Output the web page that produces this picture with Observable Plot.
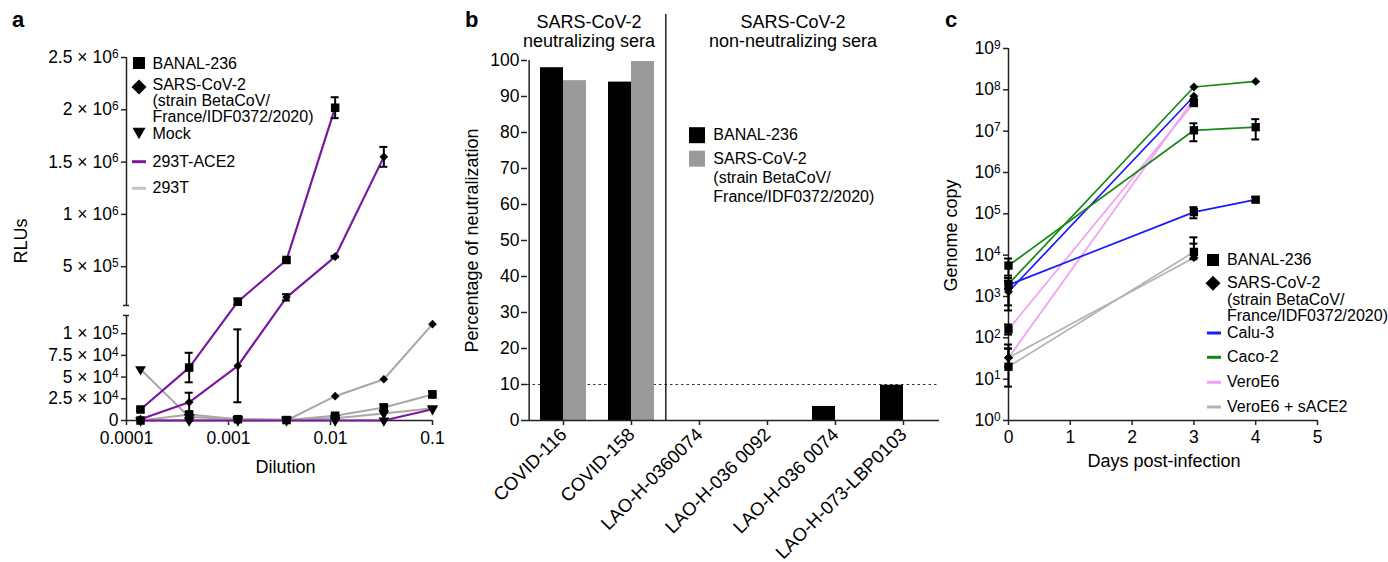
<!DOCTYPE html>
<html>
<head>
<meta charset="utf-8">
<script src="https://cdn.jsdelivr.net/npm/d3@7"></script>
<script src="https://cdn.jsdelivr.net/npm/@observablehq/plot@0.6"></script>
<style>
  body { margin: 0; background: #fff; }
  #root { position: relative; width: 1388px; height: 562px; overflow: hidden; background: #fff; }
  #root svg { position: absolute; top: 0; }
</style>
</head>
<body>
<div id="root"></div>
<script>
// ---------------- Panel a data ----------------
const dilutions = [1/7290, 1/2430, 1/810, 1/270, 1/90, 1/30, 1/10];
const banalACE2    = [12700, 61000, 165000, 564000, 2020000, null, null];
const banalACE2Err = [1500, 17000, 30000, 10000, 100000, null, null];
const sarsACE2     = [1500, 21000, 63000, 207000, 596000, 1550000, null];
const sarsACE2Err  = [0, 11000, 42000, 30000, 8000, 95000, null];
const mockACE2     = [0, 0, 0, 0, 0, 0, 13000];
const banal293T    = [0, 7000, 1500, 500, 5500, 15000, 30000];
const banal293TErr = [0, 0, 0, 0, 2500, 3500, 3500];
const sars293T     = [0, 0, 0, 0, 28000, 47500, 111000];
const mock293T     = [59000, 4000, 1500, 1000, 2500, 8000, 14000];
const rluTicks = [0, 25000, 50000, 75000, 100000, 500000, 1000000, 1500000, 2000000, 2500000];
const rluTickLabels = ["0", "2.5 × 10^4", "5 × 10^4", "7.5 × 10^4", "1 × 10^5", "5 × 10^5", "1 × 10^6", "1.5 × 10^6", "2 × 10^6", "2.5 × 10^6"];
const dilutionTicks = [0.0001, 0.001, 0.01, 0.1];
const dilutionTickLabels = ["0.0001", "0.001", "0.01", "0.1"];
const cellsA = ["293T-ACE2", "293T"];
const virusNames = ["BANAL-236", "SARS-CoV-2", "Mock"];

// ---------------- Panel b data ----------------
const sera = ["COVID-116", "COVID-158", "LAO-H-0360074", "LAO-H-036 0092", "LAO-H-036 0074", "LAO-H-073-LBP0103"];
const neutBANAL = [98, 94, 0, 0, 3.9, 9.8];
const neutSARS  = [94.4, 99.7, 0, 0, 0, 0];
const neutThreshold = 10;
const pctTicks = [0, 10, 20, 30, 40, 50, 60, 70, 80, 90, 100];

// ---------------- Panel c data ----------------
const days = [0, 3, 4];
const caluBANAL = [1900, 110000, 220000];       const caluBANALLo = [610, 78000, 195000];     const caluBANALHi = [2800, 145000, 255000];
const caluSARS  = [1300, 70000000, null];       const caluSARSLo  = [460, null, null];        const caluSARSHi  = [2400, null, null];
const cacoBANAL = [5600, 10500000, 12500000];   const cacoBANALLo = [3200, 5700000, 6300000]; const cacoBANALHi = [8300, 15500000, 19500000];
const cacoSARS  = [2000, 117000000, 160000000]; const cacoSARSLo  = [1500, null, null];       const cacoSARSHi  = [2400, null, null];
const veroBANAL = [160, 48000000, null];        const veroBANALLo = [120, 42000000, null];    const veroBANALHi = [210, 55000000, null];
const veroSARS  = [33, 60000000, null];         const veroSARSLo  = [null, null, null];       const veroSARSHi  = [69, null, null];
const sace2BANAL = [20, 12000, null];           const sace2BANALLo = [6.6, 8000, null];       const sace2BANALHi = [55, 27000, null];
const sace2SARS  = [33, 8700, null];            const sace2SARSLo  = [20, null, null];        const sace2SARSHi  = [55, 19000, null];
const cellsC = ["Calu-3", "Caco-2", "VeroE6", "VeroE6 + sACE2"];
const cellColorsC = ["#1a1aff", "#148a14", "#f29ef2", "#b3b3b3"];
const genomeTicks = [1, 10, 100, 1e3, 1e4, 1e5, 1e6, 1e7, 1e8, 1e9];
const genomeTickLabels = ["10^0", "10^1", "10^2", "10^3", "10^4", "10^5", "10^6", "10^7", "10^8", "10^9"];
const dayTicks = [0, 1, 2, 3, 4, 5];

// ---------------- helpers ----------------
const FONT = "'Liberation Sans', Arial, Helvetica, sans-serif";
const AX = "#222";
const root = document.getElementById("root");

function supify(svg) {
  d3.select(svg).selectAll("text").each(function () {
    const t = this.textContent;
    if (this.childElementCount === 0 && t.includes("^")) {
      const [base, exp] = t.split("^");
      this.textContent = base;
      d3.select(this).append("tspan").attr("dy", "-0.45em").attr("font-size", "0.68em").text(exp);
    }
  });
}
function mount(svg, left) {
  supify(svg);
  svg.style.left = left + "px";
  svg.style.background = "transparent";
  svg.style.maxWidth = "none";
  root.appendChild(svg);
}

// ---------------- Panel a: broken linear axis ----------------
const BREAK_LO = 121000, BREAK_HI = 129000, GAP = 11500, RATIO = 8.3;
function brk(v) {
  if (v <= BREAK_LO) return v;
  if (v >= BREAK_HI) return BREAK_LO + GAP + (v - BREAK_HI) / RATIO;
  return BREAK_LO + (v - BREAK_LO) / (BREAK_HI - BREAK_LO) * GAP;
}
const seriesA = [
  {virus: "BANAL-236", cell: "293T", values: banal293T, err: banal293TErr},
  {virus: "SARS-CoV-2", cell: "293T", values: sars293T, err: null},
  {virus: "Mock", cell: "293T", values: mock293T, err: null},
  {virus: "BANAL-236", cell: "293T-ACE2", values: banalACE2, err: banalACE2Err},
  {virus: "SARS-CoV-2", cell: "293T-ACE2", values: sarsACE2, err: sarsACE2Err},
  {virus: "Mock", cell: "293T-ACE2", values: mockACE2, err: null}
];
const rowsA = seriesA.flatMap(s => dilutions.map((dil, i) => ({
  key: s.virus + "|" + s.cell, virus: s.virus, cell: s.cell, dil,
  v: s.values[i], e: s.err ? s.err[i] : null
}))).filter(d => d.v != null);
const errA = rowsA.filter(d => d.e);
const labelA = new Map(rluTicks.map((t, i) => [brk(t), rluTickLabels[i]]));
const labelX = new Map(dilutionTicks.map((t, i) => [t, dilutionTickLabels[i]]));
const yTopA = brk(rluTicks[rluTicks.length - 1]);
const x0A = dilutionTicks[0];

const plotA = Plot.plot({
  width: 450, height: 490,
  marginLeft: 126, marginRight: 18, marginTop: 57, marginBottom: 70,
  style: {fontFamily: FONT, fontSize: "17.5px", color: "#000", overflow: "visible"},
  x: {type: "log", domain: [dilutionTicks[0], dilutionTicks[dilutionTicks.length - 1]]},
  y: {domain: [0, yTopA]},
  color: {domain: cellsA, range: ["#7a189f", "#a8a8a8"]},
  marks: [
    Plot.ruleX([x0A], {y1: 0, y2: brk(BREAK_LO), stroke: AX, strokeWidth: 1.5}),
    Plot.ruleX([x0A], {y1: brk(BREAK_HI), y2: yTopA, stroke: AX, strokeWidth: 1.5}),
    Plot.ruleY([brk(BREAK_LO), brk(BREAK_HI)], {x1: x0A, x2: x0A, insetLeft: -3, insetRight: -3, stroke: AX, strokeWidth: 1.5}),
    Plot.ruleY([0], {stroke: AX, strokeWidth: 1.5}),
    Plot.axisY({ticks: rluTicks.map(brk), tickFormat: d => labelA.get(d), label: null, tickSize: 5, tickPadding: 3, stroke: AX, strokeWidth: 1.5}),
    Plot.axisX({ticks: dilutionTicks, tickFormat: d => labelX.get(d), label: null, tickSize: 5, tickPadding: 6, stroke: AX, strokeWidth: 1.5}),
    Plot.line(rowsA.filter(d => d.cell === "293T"), {x: "dil", y: d => brk(d.v), z: "key", stroke: "cell", strokeWidth: 2}),
    Plot.line(rowsA.filter(d => d.cell === "293T-ACE2"), {x: "dil", y: d => brk(d.v), z: "key", stroke: "cell", strokeWidth: 2.2}),
    Plot.ruleX(errA, {x: "dil", y1: d => brk(d.v - d.e), y2: d => brk(d.v + d.e), stroke: "#000", strokeWidth: 2}),
    Plot.ruleY(errA, {x1: "dil", x2: "dil", y: d => brk(d.v - d.e), insetLeft: -4, insetRight: -4, stroke: "#000", strokeWidth: 2}),
    Plot.ruleY(errA, {x1: "dil", x2: "dil", y: d => brk(d.v + d.e), insetLeft: -4, insetRight: -4, stroke: "#000", strokeWidth: 2}),
    Plot.dot(rowsA.filter(d => d.virus === "Mock"), {x: "dil", y: d => brk(d.v), symbol: "triangle", rotate: 180, r: 4, fill: "#000"}),
    Plot.dot(rowsA.filter(d => d.virus === "BANAL-236"), {x: "dil", y: d => brk(d.v), symbol: "square", r: 4.8, fill: "#000"}),
    Plot.dot(rowsA.filter(d => d.virus === "SARS-CoV-2"), {x: "dil", y: d => brk(d.v), symbol: "diamond2", r: 3.9, fill: "#000"}),
    Plot.text(["RLUs"], {frameAnchor: "left", rotate: -90, dx: -105, dy: 2, textAnchor: "middle", lineAnchor: "middle", fontSize: 18}),
    Plot.text(["Dilution"], {frameAnchor: "bottom", dx: 6, dy: 47, textAnchor: "middle", lineAnchor: "middle", fontSize: 18})
  ]
});
mount(plotA, 0);

// ---------------- Panel b ----------------
const WB = 505, mLB = 87, mRB = 6, piB = 0.33, poB = 0.165;
const stepB = (WB - mLB - mRB) / (sera.length - piB + 2 * poB);
const bwB = stepB * (1 - piB);
const rowsB = sera.map((s, i) => ({serum: s, banal: neutBANAL[i], sars: neutSARS[i]}));
const plotB = Plot.plot({
  width: WB, height: 562,
  marginLeft: mLB, marginRight: mRB, marginTop: 60, marginBottom: 142,
  style: {fontFamily: FONT, fontSize: "17.5px", color: "#000", overflow: "visible"},
  x: {type: "band", domain: sera, paddingInner: piB, paddingOuter: poB},
  y: {domain: [0, 100]},
  marks: [
    Plot.ruleY([neutThreshold], {stroke: "#333", strokeDasharray: "2.5,3", strokeWidth: 1.2}),
    Plot.barY(rowsB, {x: "serum", y: "banal", fill: "#000", insetRight: bwB / 2}),
    Plot.barY(rowsB, {x: "serum", y: "sars", fill: "#9a9a9a", insetLeft: bwB / 2}),
    Plot.ruleX([sera[1]], {dx: stepB / 2, insetTop: -46, stroke: "#000", strokeWidth: 1.3}),
    Plot.ruleX([sera[0]], {dx: -stepB / 2, stroke: AX, strokeWidth: 1.5}),
    Plot.ruleY([0], {stroke: AX, strokeWidth: 1.5}),
    Plot.axisY({ticks: pctTicks, label: null, tickSize: 6, tickPadding: 2, stroke: AX, strokeWidth: 1.5}),
    Plot.axisX({tickRotate: -45, label: null, tickSize: 5, tickPadding: 6, fontSize: 18.5, stroke: AX, strokeWidth: 1.5}),
    Plot.text(["Percentage of neutralization"], {frameAnchor: "left", rotate: -90, dx: -55, textAnchor: "middle", lineAnchor: "middle", fontSize: 18})
  ]
});
mount(plotB, 440);

// ---------------- Panel c ----------------
const seriesC = [
  {cell: "VeroE6 + sACE2", virus: "BANAL-236", v: sace2BANAL, lo: sace2BANALLo, hi: sace2BANALHi},
  {cell: "VeroE6 + sACE2", virus: "SARS-CoV-2", v: sace2SARS, lo: sace2SARSLo, hi: sace2SARSHi},
  {cell: "VeroE6", virus: "BANAL-236", v: veroBANAL, lo: veroBANALLo, hi: veroBANALHi},
  {cell: "VeroE6", virus: "SARS-CoV-2", v: veroSARS, lo: veroSARSLo, hi: veroSARSHi},
  {cell: "Calu-3", virus: "BANAL-236", v: caluBANAL, lo: caluBANALLo, hi: caluBANALHi},
  {cell: "Calu-3", virus: "SARS-CoV-2", v: caluSARS, lo: caluSARSLo, hi: caluSARSHi},
  {cell: "Caco-2", virus: "BANAL-236", v: cacoBANAL, lo: cacoBANALLo, hi: cacoBANALHi},
  {cell: "Caco-2", virus: "SARS-CoV-2", v: cacoSARS, lo: cacoSARSLo, hi: cacoSARSHi}
];
const rowsC = seriesC.flatMap(s => days.map((day, i) => ({
  key: s.cell + "|" + s.virus, cell: s.cell, virus: s.virus, day,
  v: s.v[i], lo: s.lo[i] ?? s.v[i], hi: s.hi[i] ?? s.v[i]
}))).filter(d => d.v != null);
const errC = rowsC.filter(d => d.lo !== d.v || d.hi !== d.v);
const labelC = new Map(genomeTicks.map((t, i) => [t, genomeTickLabels[i]]));
const plotC = Plot.plot({
  width: 448, height: 562,
  marginLeft: 68, marginRight: 71, marginTop: 48, marginBottom: 142,
  style: {fontFamily: FONT, fontSize: "17.5px", color: "#000", overflow: "visible"},
  x: {domain: [dayTicks[0], dayTicks[dayTicks.length - 1]]},
  y: {type: "log", domain: [genomeTicks[0], genomeTicks[genomeTicks.length - 1]]},
  color: {domain: cellsC, range: cellColorsC},
  marks: [
    Plot.ruleX([dayTicks[0]], {stroke: AX, strokeWidth: 1.5}),
    Plot.ruleY([genomeTicks[0]], {stroke: AX, strokeWidth: 1.5}),
    Plot.axisY({ticks: genomeTicks, tickFormat: d => labelC.get(d), label: null, tickSize: 5, tickPadding: 3, stroke: AX, strokeWidth: 1.5}),
    Plot.axisX({ticks: dayTicks, tickFormat: d => String(d), label: null, tickSize: 5, tickPadding: 5, stroke: AX, strokeWidth: 1.5}),
    Plot.line(rowsC, {x: "day", y: "v", z: "key", stroke: "cell", strokeWidth: 1.7}),
    Plot.ruleX(errC, {x: "day", y1: "lo", y2: "hi", stroke: "#000", strokeWidth: 2}),
    Plot.ruleY(errC.filter(d => d.lo !== d.v), {x1: "day", x2: "day", y: "lo", insetLeft: -4, insetRight: -4, stroke: "#000", strokeWidth: 2}),
    Plot.ruleY(errC.filter(d => d.hi !== d.v), {x1: "day", x2: "day", y: "hi", insetLeft: -4, insetRight: -4, stroke: "#000", strokeWidth: 2}),
    Plot.dot(rowsC.filter(d => d.virus === "BANAL-236"), {x: "day", y: "v", symbol: "square", r: 4.7, fill: "#000"}),
    Plot.dot(rowsC.filter(d => d.virus === "SARS-CoV-2"), {x: "day", y: "v", symbol: "diamond2", r: 4, fill: "#000"}),
    Plot.text(["Genome copy"], {frameAnchor: "left", rotate: -90, dx: -57, dy: 1, textAnchor: "middle", lineAnchor: "middle", fontSize: 18}),
    Plot.text(["Days post-infection"], {frameAnchor: "bottom", dx: 1, dy: 41, textAnchor: "middle", lineAnchor: "middle", fontSize: 18})
  ]
});
mount(plotC, 940);

// ---------------- Overlay: panel letters, headers, legends ----------------
const ov = d3.select(root).append("svg")
  .attr("width", 1388).attr("height", 562)
  .style("left", "0px").style("top", "0px")
  .style("font-family", FONT).style("pointer-events", "none");
function txt(x, y, s, size = 16, opts = {}) {
  ov.append("text").attr("x", x).attr("y", y).attr("font-size", size)
    .attr("font-weight", opts.bold ? "bold" : null)
    .attr("text-anchor", opts.anchor || "start").attr("fill", "#000").text(s);
}
function square(cx, cy, s, fill = "#000") { ov.append("rect").attr("x", cx - s / 2).attr("y", cy - s / 2).attr("width", s).attr("height", s).attr("fill", fill); }
function diamond(cx, cy, h) { ov.append("path").attr("d", `M${cx},${cy - h}L${cx + h},${cy}L${cx},${cy + h}L${cx - h},${cy}Z`).attr("fill", "#000"); }
function triDown(cx, cy, w) { ov.append("path").attr("d", `M${cx - w / 2},${cy - w * 0.45}L${cx + w / 2},${cy - w * 0.45}L${cx},${cy + w * 0.45}Z`).attr("fill", "#000"); }
function swatchLine(x1, x2, y, color) { ov.append("line").attr("x1", x1).attr("x2", x2).attr("y1", y).attr("y2", y).attr("stroke", color).attr("stroke-width", 3); }

const sarsLines = ["SARS-CoV-2", "(strain BetaCoV/", "France/IDF0372/2020)"];

// panel letters
txt(12, 27, "a", 22, {bold: true});
txt(465, 27, "b", 22, {bold: true});
txt(945, 27, "c", 22, {bold: true});

// panel b headers
txt(589, 27.5, "SARS-CoV-2", 18, {anchor: "middle"});
txt(589, 46.5, "neutralizing sera", 18, {anchor: "middle"});
txt(793, 27.5, "SARS-CoV-2", 18, {anchor: "middle"});
txt(793, 46.5, "non-neutralizing sera", 18, {anchor: "middle"});

// legend a
square(139, 63, 12); txt(152.5, 68.5, virusNames[0]);
diamond(139, 87, 7.5);
txt(152.5, 90, sarsLines[0]); txt(152.5, 106, sarsLines[1]); txt(152.5, 121.7, sarsLines[2]);
triDown(139, 133.5, 13); txt(152.5, 139.3, virusNames[2]);
swatchLine(132, 146, 161.7, "#7a189f"); txt(152.5, 166.7, cellsA[0]);
swatchLine(132, 146, 188.3, "#c4c4c4"); txt(152.5, 193.3, cellsA[1]);

// legend b
square(697, 135.2, 16, "#000"); txt(713.3, 139.5, virusNames[0]);
square(697, 158.7, 16, "#9a9a9a");
txt(713.3, 163.5, sarsLines[0]); txt(713.3, 183.3, sarsLines[1]); txt(713.3, 201.7, sarsLines[2]);

// legend c
square(1213, 260, 12); txt(1227, 265, virusNames[0]);
diamond(1213, 283.3, 7.5);
txt(1227, 288.3, sarsLines[0]); txt(1227, 305, sarsLines[1]); txt(1227, 321, sarsLines[2]);
const legYC = [333, 357.3, 382.3, 407];
cellsC.forEach((c, i) => { swatchLine(1207, 1221, legYC[i], cellColorsC[i]); txt(1227, legYC[i] + 5, c); });
</script>
</body>
</html>
